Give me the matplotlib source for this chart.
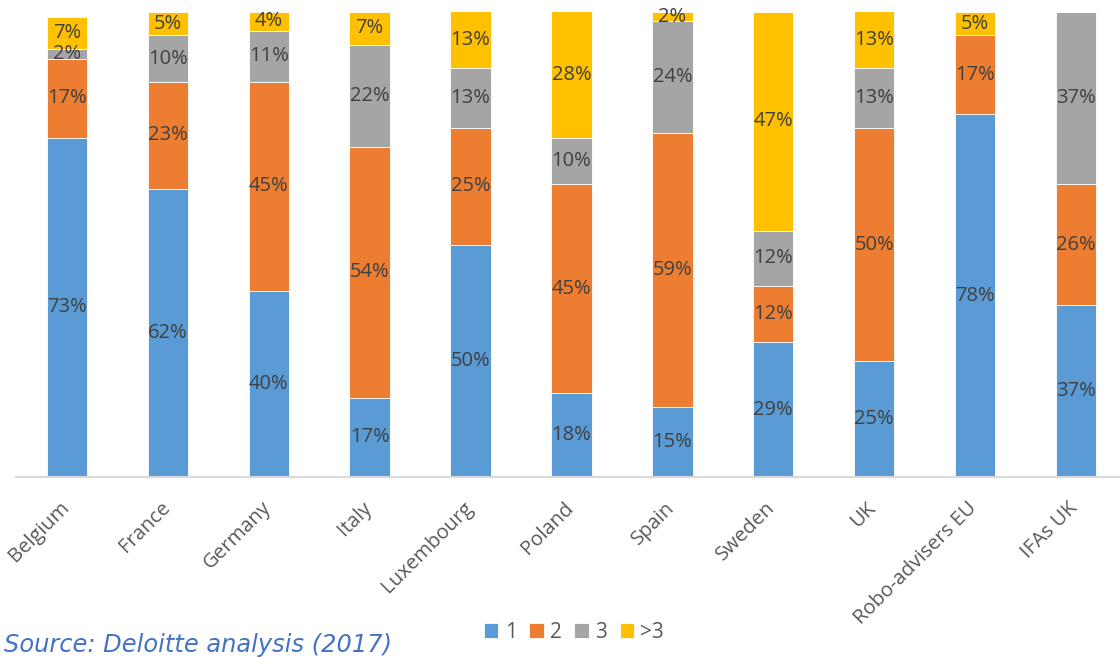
import matplotlib
matplotlib.use("Agg")
import matplotlib.pyplot as plt
import matplotlib.transforms as mtransforms
import numpy as np

categories = ["Belgium", "France", "Germany", "Italy", "Luxembourg", "Poland",
              "Spain", "Sweden", "UK", "Robo-advisers EU", "IFAs UK"]
series_names = ["1", "2", "3", ">3"]
s1 = [73, 62, 40, 17, 50, 18, 15, 29, 25, 78, 37]
s2 = [17, 23, 45, 54, 25, 45, 59, 12, 50, 17, 26]
s3 = [2, 10, 11, 22, 13, 10, 24, 12, 13, 0, 37]
s4 = [7, 5, 4, 7, 13, 28, 2, 47, 13, 5, 0]
colors = ["#5B9BD5", "#ED7D31", "#A5A5A5", "#FFC000"]

plt.rcParams["font.family"] = ["Open Sans", "DejaVu Sans"]

fig = plt.figure(figsize=(11.2, 6.57), dpi=100)
ax = fig.add_axes([0.0147, 0.274, 0.991, 0.7077])

x = np.arange(len(categories))
bottom = np.zeros(len(categories))
handles = []
for vals, name, col in zip([s1, s2, s3, s4], series_names, colors):
    vals = np.array(vals, dtype=float)
    bars = ax.bar(x, vals, width=0.4, bottom=bottom, color=col,
                  edgecolor="white", linewidth=0.6, label=name, zorder=2)
    handles.append(bars)
    for xi, b, v in zip(x, bottom, vals):
        if v <= 0:
            continue
        top = min(b + v, 100)
        ax.text(xi, (b + top) / 2, f"{int(v)}%", ha="center", va="center",
                fontsize=14.5, color="#404040", zorder=3)
    bottom += vals

ax.set_xlim(-0.5, len(categories) - 0.5)
ax.set_ylim(0, 100)
ax.set_yticks([])
for side in ["top", "right", "left"]:
    ax.spines[side].set_visible(False)
ax.spines["bottom"].set_color("#D9D9D9")
ax.spines["bottom"].set_linewidth(1.5)
ax.set_xticks(x)
ax.set_xticklabels(categories, rotation=45, ha="right", rotation_mode="anchor",
                   fontsize=14.6, color="#595959")
ax.tick_params(axis="x", length=0, pad=15)
shift = mtransforms.ScaledTranslation(-8 / 100, 0, fig.dpi_scale_trans)
for lbl in ax.get_xticklabels():
    lbl.set_transform(lbl.get_transform() + shift)

fig.legend(handles, series_names, loc="center", bbox_to_anchor=(0.5125, 0.038),
           ncol=4, frameon=False, fontsize=15, handlelength=0.7,
           handleheight=0.7, handletextpad=0.3, columnspacing=0.6,
           labelcolor="#595959")

fig.text(0.004, 0.018, "Source: Deloitte analysis (2017)", fontsize=17.4,
         style="italic", color="#4472C4", ha="left", va="center",
         family="DejaVu Sans")

fig.savefig("out.png", dpi=100)
